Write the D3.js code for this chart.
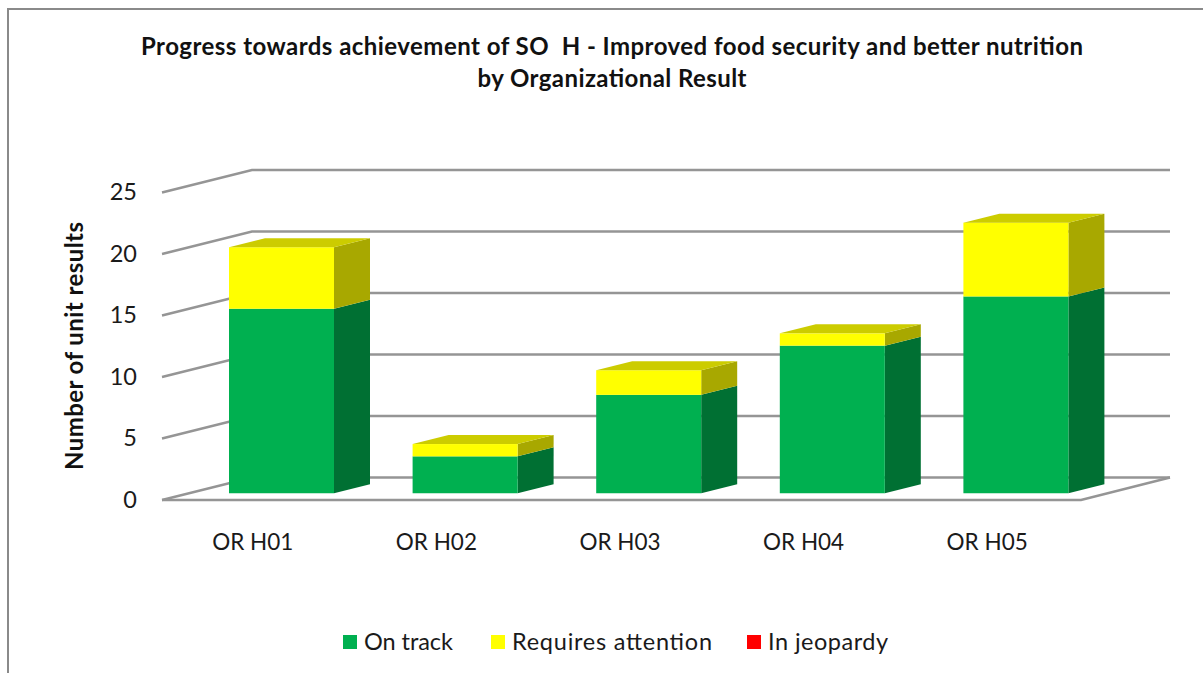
<!DOCTYPE html>
<html><head><meta charset="utf-8">
<script src="https://cdn.jsdelivr.net/npm/d3@7/dist/d3.min.js"></script>
<style>html,body{margin:0;padding:0;background:#fff}svg{display:block}text{font-family:Lato,"Open Sans",sans-serif;fill:#1a1a1a;white-space:pre}</style>
</head><body><svg id="c" width="1203" height="673"></svg>
<script>
const categories=["OR H01","OR H02","OR H03","OR H04","OR H05"];
const onTrack=[15,3,8,12,16];
const requiresAttention=[5,1,2,1,6];
const inJeopardy=[0,0,0,0,0];
const yTicks=[0,5,10,15,20,25];
const seriesNames=["On track","Requires attention","In jeopardy"];
const seriesFront=["#00b050","#ffff00","#ff0000"];
const seriesTop=["#00b050","#cccc00","#cc0000"];
const seriesSide=["#007033","#a8a800","#a80000"];
const titleLines=["Progress towards achievement of SO  H - Improved food security and better nutrition","by Organizational Result"];
const titleWidths=[942,269];
const legendWidths=[89,200,120];

const svg=d3.select("#c");
const x=d3.scaleBand().domain(categories).range([162,1080]);
const h=d3.scaleLinear().domain([0,25]).range([0,307.5]);
const floorY=500, depthX=90, depthY=-22.5;
const barZ=0.3, barDepth=0.4;
const barInset=67, barW=105;
const line=d3.line();
const grid="#959595";

// frame
svg.append("path").attr("d","M8,673V9H1203").attr("fill","none").attr("stroke","#8a8a8a").attr("stroke-width",2);

// title
titleLines.forEach((t,i)=>svg.append("text").attr("x",612).attr("y",55+i*32).attr("text-anchor","middle")
  .attr("font-size",24).attr("font-weight",700).attr("textLength",titleWidths[i]).attr("lengthAdjust","spacing")
  .style("fill","#111").text(t));

// gridlines on side and back walls
yTicks.forEach(v=>{
  const y=floorY-h(v);
  svg.append("path").attr("d",line([[162,y],[162+depthX,y+depthY],[1170,y+depthY]]))
    .attr("fill","none").attr("stroke",grid).attr("stroke-width",2.4);
  svg.append("text").attr("x",137).attr("y",y+7.5).attr("text-anchor","end").attr("font-size",23.5).text(v);
});
// floor
svg.append("path").attr("d",line([[162,floorY],[1081,floorY],[1170,floorY+depthY]]))
  .attr("fill","none").attr("stroke",grid).attr("stroke-width",2.4);

// bars
const ox=barZ*depthX, oy=barZ*depthY, dx=barDepth*depthX, dy=barDepth*depthY;
const series=[onTrack,requiresAttention,inJeopardy];
categories.forEach((c,i)=>{
  let acc=0;
  const x0=x(c)+barInset, x1=x0+barW;
  series.forEach((s,k)=>{
    const v=s[i]; if(!v) return;
    const yb=floorY+oy-h(acc), yt=floorY+oy-h(acc+v);
    svg.append("path").attr("d",line([[x1,yb],[x1+dx,yb+dy],[x1+dx,yt+dy],[x1,yt]])+"Z").attr("fill",seriesSide[k]);
    svg.append("rect").attr("x",x0).attr("y",yt).attr("width",barW).attr("height",yb-yt).attr("fill",seriesFront[k]);
    acc+=v;
    const top=series.slice(k+1).every(a=>!a[i]);
    if(top) svg.append("path").attr("d",line([[x0,yt],[x0+dx,yt+dy],[x1+dx,yt+dy],[x1,yt]])+"Z").attr("fill",seriesTop[k]);
  });
  svg.append("text").attr("x",x(c)+x.bandwidth()/2-1).attr("y",550).attr("text-anchor","middle").attr("font-size",22.5).text(c);
});

// axis title
svg.append("text").attr("transform","translate(83,346) rotate(-90)").attr("text-anchor","middle")
  .attr("font-size",24).attr("font-weight",700).attr("textLength",248).attr("lengthAdjust","spacing").style("fill","#111").text("Number of unit results");

// legend
const legX=[343,491,747];
seriesNames.forEach((n,k)=>{
  svg.append("rect").attr("x",legX[k]).attr("y",635).attr("width",14).attr("height",14).attr("fill",seriesFront[k]);
  svg.append("text").attr("x",legX[k]+21).attr("y",650).attr("font-size",23.5).attr("textLength",legendWidths[k]).attr("lengthAdjust","spacing").text(n);
});
</script></body></html>
